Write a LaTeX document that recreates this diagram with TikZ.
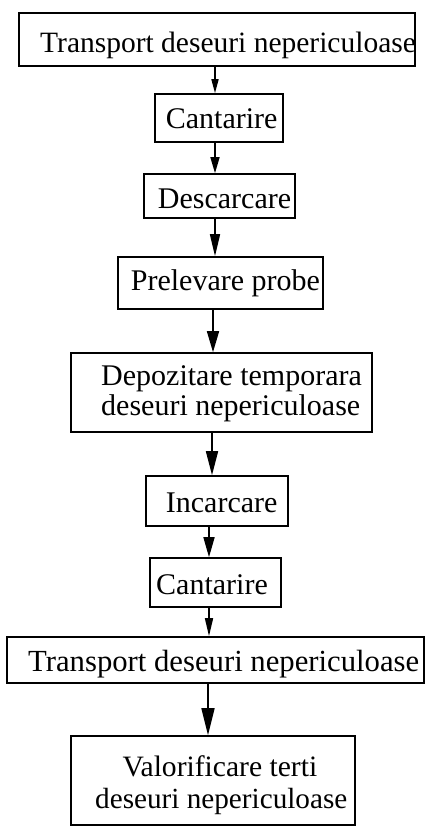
\documentclass[tikz,border=0pt]{standalone}
\usepackage{fontspec}
\setmainfont{Liberation Serif}
\usetikzlibrary{arrows.meta}
\begin{document}
\begin{tikzpicture}[x=1pt,y=-1pt,
  box/.style={draw, line width=1.6pt, inner sep=0pt},
  lbl/.style={font=\fontsize{30}{30}\selectfont, inner sep=0pt, anchor=base west},
  arr/.style={line width=1.6pt}]
\useasboundingbox (0,0) rectangle (426,828);
% boxes
\node[box, minimum width=396pt, minimum height=53pt] (b1) at (217,39.5) {};
\node[box, minimum width=128pt, minimum height=48pt] (b2) at (219,118) {};
\node[box, minimum width=151pt, minimum height=44pt] (b3) at (219.5,196) {};
\node[box, minimum width=205pt, minimum height=52pt] (b4) at (220.5,283) {};
\node[box, minimum width=301pt, minimum height=79pt] (b5) at (221.5,392.5) {};
\node[box, minimum width=142pt, minimum height=50pt] (b6) at (217,501) {};
\node[box, minimum width=131pt, minimum height=49pt] (b7) at (215.5,582.5) {};
\node[box, minimum width=417pt, minimum height=46pt] (b8) at (215.5,660) {};
\node[box, minimum width=284pt, minimum height=89pt] (b9) at (213,780.5) {};
% texts
\node[lbl, font=\fontsize{29.5}{30}\selectfont] (t1) at (40,52) {Transport deseuri nepericuloase};
\node[lbl] (t2) at (165.7,128.3) {Cantarire};
\node[lbl] (t3) at (157.7,208.3) {Descarcare};
\node[lbl] (t4) at (130.7,290) {Prelevare probe};
\node[lbl] (t5a) at (101,385) {Depozitare temporara};
\node[lbl] (t5b) at (101,415) {deseuri nepericuloase};
\node[lbl] (t6) at (165.7,512.3) {Incarcare};
\node[lbl] (t7) at (156,594.3) {Cantarire};
\node[lbl, font=\fontsize{30.7}{30}\selectfont] (t8) at (28,671.7) {Transport deseuri nepericuloase};
\node[lbl, font=\fontsize{29.6}{30}\selectfont] (t9a) at (122.3,776.7) {Valorificare terti};
\node[lbl, font=\fontsize{29.2}{30}\selectfont] (t9b) at (95,808.3) {deseuri nepericuloase};
% arrows
\draw[arr, -{Triangle[length=14pt,width=7pt]}] ([xshift=-2pt]b1.south) -- ([xshift=-4pt]b2.north);
\draw[arr, -{Triangle[length=16pt,width=9pt]}] ([xshift=-4pt]b2.south) -- ([xshift=-4.5pt]b3.north);
\draw[arr, -{Triangle[length=22pt,width=10pt]}] ([xshift=-4.5pt]b3.south) -- ([xshift=-5.5pt]b4.north);
\draw[arr, -{Triangle[length=21pt,width=12pt]}] ([xshift=-7.5pt]b4.south) -- ([xshift=-8.5pt]b5.north);
\draw[arr, -{Triangle[length=24pt,width=12pt]}] ([xshift=-9.5pt]b5.south) -- ([xshift=-5pt]b6.north);
\draw[arr, -{Triangle[length=20pt,width=11pt]}] ([xshift=-8pt]b6.south) -- ([xshift=-6.5pt]b7.north);
\draw[arr, -{Triangle[length=18pt,width=8pt]}] ([xshift=-6.5pt]b7.south) -- ([xshift=-6.5pt]b8.north);
\draw[arr, -{Triangle[length=27pt,width=13pt]}] ([xshift=-7.5pt]b8.south) -- ([xshift=-5pt]b9.north);
\end{tikzpicture}
\end{document}
